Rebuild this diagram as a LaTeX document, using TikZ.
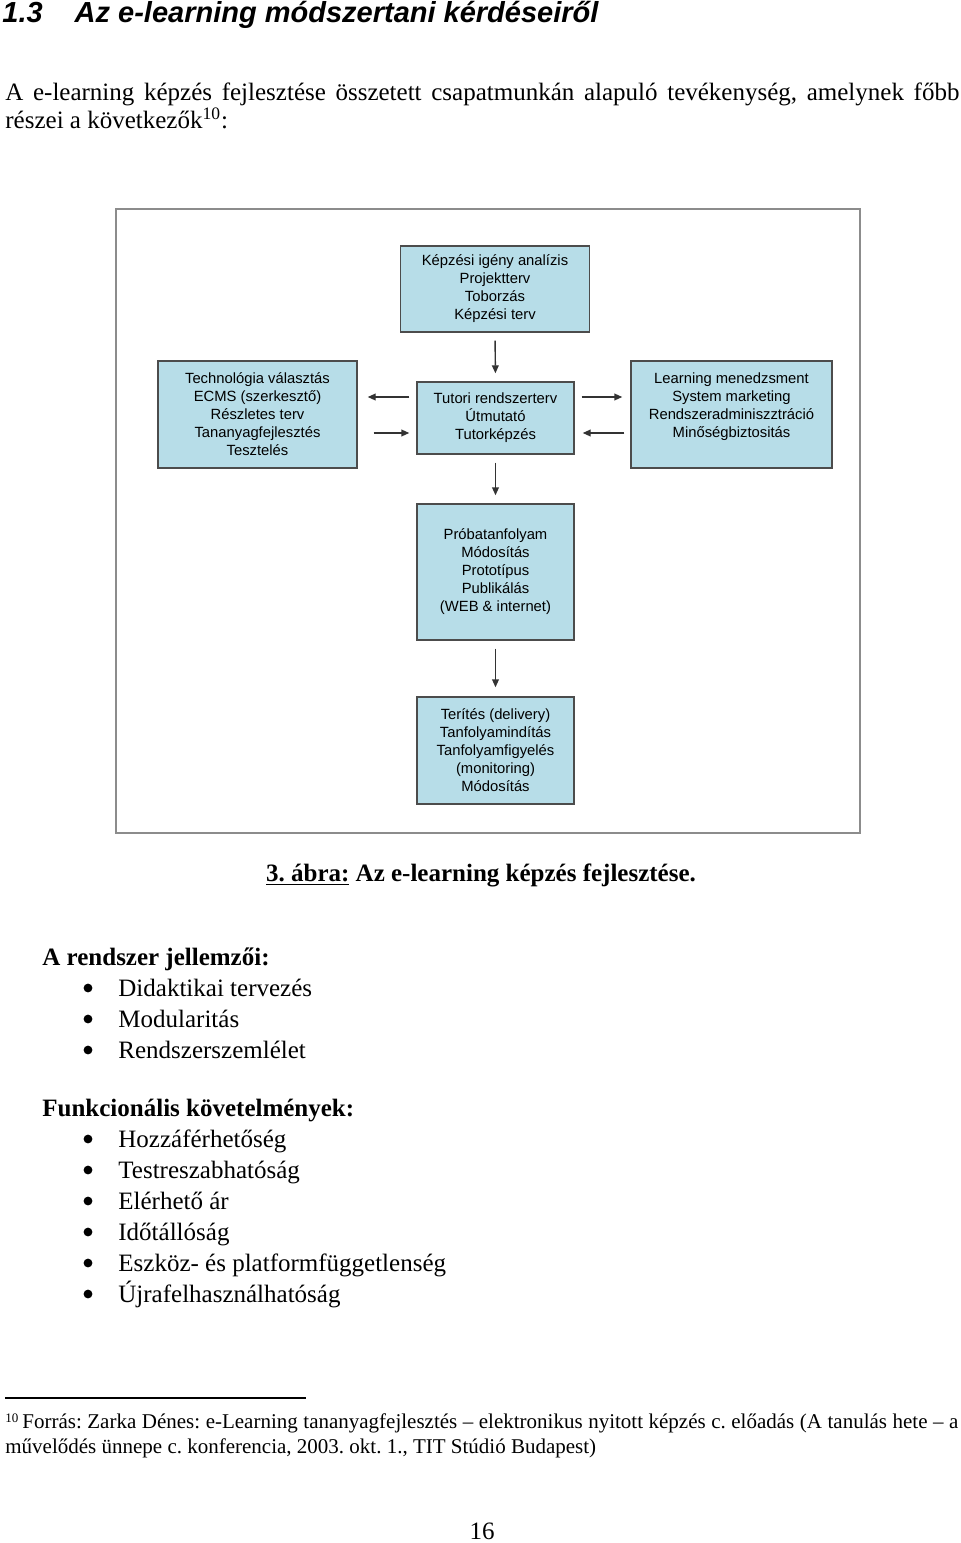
\documentclass[tikz,border=0pt]{standalone}
\usepackage{fontspec}
\setmainfont{Liberation Serif}
\newfontfamily\arialfont{Liberation Sans}
\usetikzlibrary{arrows.meta,calc}
\definecolor{boxblue}{RGB}{183,221,232}
\tikzset{
  phase/.style={draw=black!70, line width=0.7pt, fill=boxblue, align=center, inner sep=0pt,
    font=\arialfont\fontsize{7.4}{9}\selectfont},
  arr/.style={-{Triangle[length=4pt,width=3.4pt]}, line width=0.7pt, black!80},
  txt/.style={anchor=base west, inner sep=0pt, font=\fontsize{12.5}{15}\selectfont},
  dot/.style={circle, fill=black, inner sep=0pt, minimum size=4.4pt}
}
\begin{document}
\frenchspacing
\begin{tikzpicture}[x=0.5pt,y=-0.5pt]
\useasboundingbox (0,0) rectangle (960,1543);
% heading and intro
\node (head) [txt, font=\arialfont\bfseries\itshape\fontsize{14.5}{17}\selectfont] at (2,22) {1.3\hspace{16pt}Az e-learning módszertani kérdéseiről};
\node (intro1) [txt] at (5,100) {\makebox[477pt][s]{A e-learning képzés fejlesztése összetett csapatmunkán alapuló tevékenység, amelynek főbb}};
\node (intro2) [txt] at (5,128) {részei a következők\textsuperscript{10}:};
% figure frame
\draw [black!45, line width=0.8pt] (116,209) rectangle (860,833);
% boxes
\node (plan) [phase, minimum width=94.5pt, minimum height=43pt] at (495,289)
  {Képzési igény analízis\\ Projektterv\\ Toborzás\\ Képzési terv};
\node (tech) [phase, minimum width=99.5pt, minimum height=53.5pt] at (257.5,414.5)
  {Technológia választás\\ ECMS (szerkesztő)\\ Részletes terv\\ Tananyagfejlesztés\\ Tesztelés};
\node (tutor) [phase, minimum width=78.5pt, minimum height=36pt] at (495.5,418)
  {Tutori rendszerterv\\ Útmutató\\ Tutorképzés};
\node (lms) [phase, minimum width=100.5pt, minimum height=53.5pt] at (731.5,414.5)
  {Learning menedzsment\\ System marketing\\ Rendszeradminiszztráció\\ Minőségbiztositás\\ \mbox{}};
\node (pilot) [phase, minimum width=78.5pt, minimum height=68pt] at (495.5,572)
  {Próbatanfolyam\\ Módosítás\\ Prototípus\\ Publikálás\\ (WEB \& internet)};
\node (deliv) [phase, minimum width=78.5pt, minimum height=53.5pt] at (495.5,750.5)
  {Terítés (delivery)\\ Tanfolyamindítás\\ Tanfolyamfigyelés\\ (monitoring)\\ Módosítás};
% arrows
\draw [arr, shorten <=4pt, shorten >=4pt] (plan.south) -- (tutor.north);
\draw [arr, shorten <=4pt, shorten >=4pt] (tutor.south) -- (pilot.north);
\draw [arr, shorten <=4pt, shorten >=4.5pt] (pilot.south) -- (deliv.north);
\draw [arr, shorten <=3.5pt, shorten >=5pt] ([yshift=10.5pt]tutor.west) -- ([yshift=10.5pt]tutor.west -| tech.east);
\draw [arr, shorten <=8pt, shorten >=3.5pt] ([yshift=-7.5pt]tutor.west -| tech.east) -- ([yshift=-7.5pt]tutor.west);
\draw [arr, shorten <=3.5pt, shorten >=4pt] ([yshift=10.5pt]tutor.east) -- ([yshift=10.5pt]tutor.east -| lms.west);
\draw [arr, shorten <=3pt, shorten >=4pt] ([yshift=-7.5pt]tutor.east -| lms.west) -- ([yshift=-7.5pt]tutor.east);
% caption
\node (caption) [inner sep=0pt, anchor=base, font=\bfseries\fontsize{12.5}{15}\selectfont] at (481,881)
  {\underline{3. ábra:} Az e-learning képzés fejlesztése.};
% lists
\node (feat) [txt, font=\bfseries\fontsize{12.5}{15}\selectfont] at (42,965) {A rendszer jellemzői:};
\foreach \item [count=\i] in {Didaktikai tervezés, Modularitás, Rendszerszemlélet}{
  \node (featb\i) [dot] at (88,957+31*\i) {};
  \node (feat\i) [txt] at (118,965+31*\i) {\item};
}
\node (func) [txt, font=\bfseries\fontsize{12.5}{15}\selectfont] at (42,1116) {Funkcionális követelmények:};
\foreach \item [count=\i] in {Hozzáférhetőség, Testreszabhatóság, Elérhető ár, Időtállóság,
  Eszköz- és platformfüggetlenség, Újrafelhasználhatóság}{
  \node (funcb\i) [dot] at (88,1108+31*\i) {};
  \node (func\i) [txt] at (118,1116+31*\i) {\item};
}
% footnote
\draw [line width=0.6pt] (5,1398) -- (306,1398);
\node (fnmark) [txt, font=\fontsize{6.5}{8}\selectfont] at (5,1422) {10};
\node (fn1) [txt, font=\fontsize{10.5}{12.5}\selectfont] at (22,1428)
  {\makebox[468pt][s]{Forrás: Zarka Dénes: e-Learning tananyagfejlesztés – elektronikus nyitott képzés c. előadás (A tanulás hete – a}};
\node (fn2) [txt, font=\fontsize{10.5}{12.5}\selectfont] at (5,1453)
  {művelődés ünnepe c. konferencia, 2003. okt. 1., TIT Stúdió Budapest)};
\node (page) [txt, anchor=base] at (482,1539) {16};
\end{tikzpicture}
\end{document}
